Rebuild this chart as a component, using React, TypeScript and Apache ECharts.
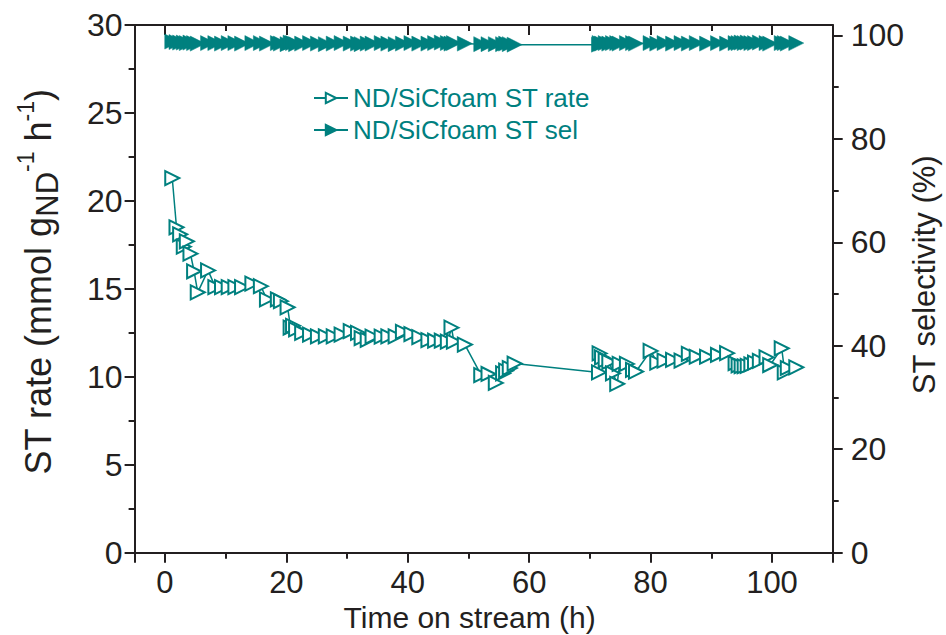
import React, { useEffect, useRef } from "react";
import * as echarts from "echarts";

const TEAL = "#00807f";
const INK = "#231f20";
const FONT = "'Liberation Sans', Arial, sans-serif";

// Time on stream (h)
const timeH = [
  1.2, 1.9, 2.5, 3.1, 3.6, 4.2, 4.8, 5.4, 7.1, 8.3, 9.4, 10.5, 11.6, 12.7, 14.4, 15.8, 16.8, 18.6, 19.1, 20.2,
  20.7, 21.1, 21.6, 22.6, 23.9, 25.2, 26.5, 27.8, 29.1, 30.6, 31.8, 32.4, 33.4, 34.2, 35.7, 36.8, 38.0, 39.2,
  40.6, 41.9, 43.4, 44.5, 45.6, 46.6, 47.2, 47.6, 49.4, 52.1, 53.3, 54.5, 55.7, 56.2, 56.8, 57.6,
  71.5, 71.6, 72.0, 72.6, 73.2, 73.8, 74.5, 74.9, 76.1, 77.1, 77.6, 80.0, 81.1, 82.3, 83.7, 85.1, 86.3, 87.6,
  89.3, 91.1, 92.6, 94.0, 94.5, 95.0, 95.5, 96.0, 96.6, 97.2, 98.0, 99.1, 99.7, 101.6, 102.1, 102.6, 104.0,
];

// ST rate (mmol gND-1 h-1)
const stRate = [
  21.3, 18.5, 18.1, 17.4, 17.7, 17.0, 16.0, 14.8, 16.05, 15.1, 15.1, 15.1, 15.1, 15.1, 15.3, 15.15, 14.4, 14.4, 14.3, 13.95,
  12.8, 12.9, 12.7, 12.5, 12.4, 12.3, 12.3, 12.3, 12.4, 12.6, 12.5, 12.2, 12.1, 12.28, 12.28, 12.3, 12.3, 12.56,
  12.43, 12.25, 12.09, 12.05, 12.05, 12.0, 12.79, 12.0, 11.83, 10.1, 10.16, 9.65, 10.2, 10.35, 10.5, 10.75,
  10.25, 11.33, 11.1, 10.95, 10.85, 10.2, 9.6, 10.73, 10.73, 10.39, 10.3, 11.47, 10.8, 10.92, 10.96, 10.92, 11.3, 11.14,
  11.14, 11.24, 11.34, 10.77, 10.65, 10.6, 10.6, 10.62, 10.7, 10.8, 10.9, 11.1, 10.67, 11.62, 10.25, 10.5, 10.54,
];

// ST selectivity (%)
const stSel = [
  98.8, 98.7, 98.6, 98.6, 98.5, 98.6, 98.5, 98.4, 98.5, 98.5, 98.4, 98.5, 98.5, 98.4, 98.5, 98.5, 98.4, 98.5, 98.4, 98.3,
  98.6, 98.5, 98.3, 98.4, 98.5, 98.4, 98.3, 98.4, 98.5, 98.4, 98.4, 98.3, 98.4, 98.4, 98.5, 98.4, 98.3, 98.4,
  98.5, 98.4, 98.4, 98.5, 98.6, 98.5, 98.4, 98.5, 98.4, 98.3, 98.3, 98.3, 98.3, 98.4, 98.3, 98.2,
  98.2, 98.5, 98.4, 98.5, 98.4, 98.5, 98.5, 98.4, 98.5, 98.5, 98.4, 98.5, 98.4, 98.5, 98.4, 98.5, 98.4, 98.5,
  98.4, 98.5, 98.4, 98.5, 98.5, 98.6, 98.5, 98.6, 98.5, 98.5, 98.6, 98.5, 98.4, 98.5, 98.5, 98.4, 98.5,
];

const xMin = -5;
const xMax = 110;
const rateTicks = { min: 0, max: 30, interval: 5 };
const selTicks = { min: 0, max: 102, interval: 20 };
const selLabelValues = [0, 20, 40, 60, 80, 100];

export default function App() {
  const ref = useRef<HTMLDivElement>(null);
  useEffect(() => {
    if (!ref.current) return;
    const chart = echarts.init(ref.current, undefined, { renderer: "svg" });
    const axisLine = { show: true, onZero: false, lineStyle: { color: INK, width: 2 } };
    const tickStyle = { color: INK, width: 2 };
    const option: any = {
      animation: false,
      backgroundColor: "#ffffff",
      textStyle: { fontFamily: FONT },
      grid: { left: 134.6, right: 113.3, top: 25, bottom: 82.3, containLabel: false, outerBoundsMode: "none" },
      legend: {
        orient: "vertical",
        left: 308,
        top: 80,
        itemWidth: 34,
        itemHeight: 13,
        itemGap: 6,
        textStyle: { fontSize: 26, color: TEAL, fontFamily: FONT },
        data: ["ND/SiCfoam ST rate", "ND/SiCfoam ST sel"],
      },
      xAxis: [
        {
          type: "value",
          position: "bottom",
          min: xMin,
          max: xMax,
          minInterval: 20,
          maxInterval: 20,
          splitNumber: 5,
          axisLine,
          axisTick: { show: true, inside: false, length: 10, lineStyle: tickStyle },
          minorTick: { show: true, splitNumber: 2, length: 6, lineStyle: tickStyle },
          splitLine: { show: false },
          axisLabel: {
            fontSize: 31,
            color: INK,
            margin: 14,
            fontFamily: FONT,
            formatter: (v: number) => (Math.abs(v % 20) < 1e-9 ? String(v) : ""),
          },
          name: "Time on stream (h)",
          nameLocation: "middle",
          nameGap: 49,
          nameTextStyle: { fontSize: 30, color: INK, fontFamily: FONT, padding: [0, 28, 0, 0] },
        },
        {
          type: "value",
          position: "top",
          min: xMin,
          max: xMax,
          minInterval: 20,
          maxInterval: 20,
          splitNumber: 5,
          axisLine,
          axisTick: { show: true, inside: true, length: 10, lineStyle: tickStyle },
          minorTick: { show: true, splitNumber: 2, length: 6, lineStyle: tickStyle },
          splitLine: { show: false },
          axisLabel: { show: false },
        },
      ],
      yAxis: [
        {
          type: "value",
          position: "left",
          min: rateTicks.min,
          max: rateTicks.max,
          interval: rateTicks.interval,
          axisLine,
          axisTick: { show: true, inside: false, length: 10, lineStyle: tickStyle },
          minorTick: { show: true, splitNumber: 2, length: 6, lineStyle: tickStyle },
          splitLine: { show: false },
          axisLabel: { fontSize: 32, color: INK, margin: 12, fontFamily: FONT },
          name: "ST rate (mmol g{sub|ND}{sup|-1} h{sup|-1})",
          nameLocation: "middle",
          nameRotate: 90,
          nameGap: 72,
          nameMoveOverlap: false,
          nameTextStyle: {
            fontSize: 36,
            color: INK,
            fontFamily: FONT,
            lineHeight: 48,
            padding: [0, 0, 0, 14],
            rich: {
              sub: { fontSize: 31, lineHeight: 35, verticalAlign: "bottom", color: INK, fontFamily: FONT },
              sup: { fontSize: 23, lineHeight: 24, verticalAlign: "top", color: INK, fontFamily: FONT },
            },
          },
        },
        {
          type: "value",
          position: "right",
          min: selTicks.min,
          max: selTicks.max,
          interval: selTicks.interval,
          axisLine,
          axisTick: { show: true, inside: false, length: 10, lineStyle: tickStyle, customValues: selLabelValues },
          minorTick: { show: true, splitNumber: 2, length: 6, lineStyle: tickStyle },
          splitLine: { show: false },
          axisLabel: {
            fontSize: 32,
            color: INK,
            margin: 18,
            fontFamily: FONT,
            formatter: (v: number) => (selLabelValues.indexOf(v) >= 0 ? String(v) : ""),
          },
          name: "ST selectivity (%)",
          nameLocation: "middle",
          nameRotate: 90,
          nameGap: 76,
          nameMoveOverlap: false,
          nameTextStyle: { fontSize: 31, color: INK, fontFamily: FONT, padding: [0, 0, 0, 28] },
        },
      ],
      series: [
        {
          name: "ND/SiCfoam ST rate",
          type: "line",
          xAxisIndex: 0,
          yAxisIndex: 0,
          data: timeH.map((t, i) => [t, stRate[i]]),
          symbol: "triangle",
          symbolRotate: -90,
          symbolSize: 14,
          itemStyle: { color: "#ffffff", borderColor: TEAL, borderWidth: 2 },
          lineStyle: { color: TEAL, width: 1.5 },
          z: 3,
        },
        {
          name: "ND/SiCfoam ST sel",
          type: "line",
          xAxisIndex: 0,
          yAxisIndex: 1,
          data: timeH.map((t, i) => [t, stSel[i]]),
          symbol: "triangle",
          symbolRotate: -90,
          symbolSize: 15,
          itemStyle: { color: TEAL, borderColor: TEAL, borderWidth: 0.5 },
          lineStyle: { color: TEAL, width: 1.5 },
          z: 2,
        },
      ],
    };
    chart.setOption(option);
    return () => chart.dispose();
  }, []);
  return (
    <div
      ref={ref}
      style={{ position: "fixed", left: 0, top: 0, width: 946, height: 635, background: "#fff" }}
    />
  );
}
